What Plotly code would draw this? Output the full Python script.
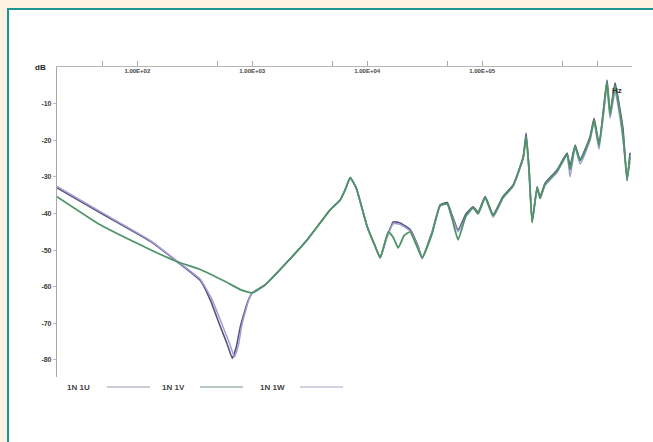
import plotly.graph_objects as go

# Frequency response of the 1N windings (magnitude in dB vs frequency in Hz)

# 1N 1U
freq_u = [20, 47.6, 130, 223, 353, 431, 527, 607, 670, 726, 787, 906, 1000,
          1297, 1750, 3006, 4763, 5824, 6440, 7117, 8020, 10000, 11740, 12970,
          14630, 16830, 19360, 23660, 27760, 30070, 36730, 43130, 49650, 54840,
          61820, 72580, 83560, 92270, 106200, 124700, 152400, 186200, 227600,
          241500, 256300, 272300, 300900, 319400, 353200, 448700, 548000,
          582400, 644400, 711700, 869200, 942000, 1040000, 1175000, 1222000,
          1297000, 1435000, 1585000, 1683000, 1824000, 1936000]
db_u = [-33.0, -39.8, -47.6, -53.2, -58.3, -63.6, -70.9, -75.8, -79.6, -76.5,
        -71.0, -64.4, -61.7,
        -59.5, -55.3, -47.2, -39.0, -36.3, -33.5, -30.2, -33.0, -43.6, -49.0,
        -52.1,
        -47.0, -42.3, -42.6, -44.4, -49.0, -52.1, -45.0, -37.6, -37.0, -40.5,
        -44.5, -40.0, -38.2, -39.6, -35.4, -40.3, -35.3, -32.2, -24.5,
        -18.0, -28.0, -42.3, -32.7, -35.4, -31.7, -28.1, -23.5,
        -27.0, -21.3, -25.3, -19.0, -14.0, -21.0, -7.6, -3.5,
        -12.5, -4.3, -11.7, -17.0, -30.8, -23.4]

# 1N 1V
freq_v = [20, 47.6, 130, 223, 353, 582, 787, 1000,
          1297, 1750, 3006, 4763, 5824, 6440, 7117, 8020, 10000, 11740, 12970,
          15240, 16830, 18620, 20990, 23660, 26670, 30070, 36730, 43130, 49650,
          54840, 61820, 72580, 83560, 92270, 106200, 124700, 152400, 186200,
          227600, 241500, 256300, 272300, 300900, 319400, 353200, 448700,
          548000, 582400, 644400, 711700, 869200, 942000, 1040000, 1175000,
          1222000, 1297000, 1435000, 1585000, 1683000, 1824000, 1936000]
db_v = [-35.4, -43.1, -49.9, -53.2, -55.3, -58.6, -60.8, -61.7,
        -59.5, -55.3, -47.2, -39.0, -36.3, -33.5, -30.2, -33.0, -43.6, -49.0,
        -52.1,
        -45.0, -46.5, -49.4, -46.0, -45.0, -48.5, -52.1, -45.5, -37.8, -37.3,
        -41.5, -47.2, -40.5, -38.4, -40.0, -35.6, -40.6, -35.5, -32.4,
        -24.8, -19.0, -28.5, -42.5, -33.0, -35.8, -31.9, -28.4,
        -23.8, -28.0, -21.6, -25.6, -19.4, -14.5, -21.5, -8.0,
        -4.0, -13.0, -5.0, -12.5, -18.5, -31.0, -24.5]

# 1N 1W
freq_w = [20, 47.6, 130, 223, 353, 445, 550, 636, 700, 758, 812, 925, 1000,
          1297, 1750, 3006, 4763, 5824, 6440, 7117, 8020, 10000, 11740, 12970,
          14630, 16830, 19360, 23660, 27760, 30070, 36730, 43130, 49650, 54840,
          61820, 72580, 83560, 92270, 106200, 124700, 152400, 186200, 227600,
          241500, 256300, 272300, 300900, 319400, 353200, 448700, 548000,
          582400, 644400, 711700, 869200, 942000, 1040000, 1175000, 1222000,
          1297000, 1435000, 1585000, 1683000, 1824000, 1936000]
db_w = [-32.6, -39.5, -47.4, -53.1, -58.0, -63.4, -70.6, -75.6, -79.2, -76.0,
        -70.5, -64.0, -61.7,
        -59.5, -55.3, -47.2, -39.0, -36.3, -33.5, -30.2, -33.0, -43.6, -49.0,
        -52.1,
        -47.2, -42.8, -43.0, -44.8, -49.3, -52.4, -45.2, -38.0, -37.4, -41.0,
        -45.0, -40.8, -38.6, -40.2, -35.8, -41.0, -35.8, -32.6, -25.0,
        -19.0, -28.6, -42.0, -33.2, -36.0, -32.3, -28.8, -24.0,
        -30.0, -22.0, -26.5, -20.0, -15.0, -22.5, -9.0, -5.0,
        -14.0, -6.5, -14.0, -20.0, -29.0, -26.0]

x_tickvals = [50, 100, 500, 1000, 5000, 10000, 50000, 100000, 500000, 1000000]
x_ticktext = ["", "1.00E+02", "", "1.00E+03", "", "1.00E+04", "", "1.00E+05", "", ""]
y_tickvals = [-80, -70, -60, -50, -40, -30, -20, -10, 0]
y_ticktext = ["-80", "-70", "-60", "-50", "-40", "-30", "-20", "-10", ""]

series = [
    ("1N 1U", freq_u, db_u, "#55547e", 1.6),
    ("1N 1W", freq_w, db_w, "#a19dd2", 1.5),
    ("1N 1V", freq_v, db_v, "#4f9467", 1.8),
]

fig = go.Figure()
for name, f, d, color, lw in series:
    fig.add_trace(go.Scatter(x=f, y=d, mode="lines", name=name,
                             line=dict(color=color, width=lw, shape="spline", smoothing=0.4),
                             showlegend=False))

font_family = "Liberation Sans, Arial, sans-serif"
tick_font = dict(family=font_family, size=7, color="#3a3a3a", weight="bold")

L, R, T, B = 57, 21, 67, 65
W, H = 653, 442
pw, ph = W - L - R, H - T - B


def px(xp):
    return (xp - L) / pw


def py(yp):
    return (H - B - yp) / ph


shapes = [
    # white panel with teal border
    dict(type="rect", xref="paper", yref="paper", x0=px(8), x1=px(700),
         y0=py(500), y1=py(9), fillcolor="white",
         line=dict(color="#1f9592", width=2), layer="below"),
]

# legend entries: label followed by a line sample
legend_items = [("1N 1U", 65, 107, 150, "#9a9aae"),
                ("1N 1V", 160, 200, 243, "#6f8f7a"),
                ("1N 1W", 258, 300, 343, "#a6a4c6")]
annotations = []
for label, tx, lx0, lx1, lcol in legend_items:
    annotations.append(dict(text=label, xref="paper", yref="paper", x=px(tx), y=py(387),
                            xanchor="left", yanchor="middle", showarrow=False,
                            font=dict(family=font_family, size=8, color="#444", weight="bold")))
    shapes.append(dict(type="line", xref="paper", yref="paper", x0=px(lx0), x1=px(lx1),
                       y0=py(387), y1=py(387), line=dict(color=lcol, width=1)))

# unit labels on the two axes
annotations.append(dict(text="Hz", xref="paper", yref="paper", x=px(617), y=py(90),
                        xanchor="center", yanchor="middle", showarrow=False,
                        font=dict(family=font_family, size=8, color="#333", weight="bold")))
annotations.append(dict(text="dB", xref="paper", yref="y", x=px(48), y=0,
                        xanchor="right", yanchor="middle", showarrow=False,
                        font=dict(family=font_family, size=8, color="#222", weight="bold")))

fig.update_layout(
    width=W, height=H,
    margin=dict(l=L, r=R, t=T, b=B, pad=0),
    paper_bgcolor="#fcf2e4",
    plot_bgcolor="rgba(0,0,0,0)",
    shapes=shapes,
    annotations=annotations,
    xaxis=dict(type="log", range=[1.301, 6.304], side="top",
               tickvals=x_tickvals, ticktext=x_ticktext,
               ticklabelposition="inside", ticks="outside", ticklen=5,
               tickcolor="#aaa", tickfont=dict(family=font_family, size=6, color="#444", weight="bold"),
               showgrid=False, zeroline=False, showline=True, linecolor="#b5b5b5", linewidth=1),
    yaxis=dict(range=[-84.7, 0.05], tickvals=y_tickvals, ticktext=y_ticktext,
               ticks="outside", ticklen=3, tickcolor="#bbb", tickfont=tick_font,
               showgrid=False, zeroline=False, showline=True, linecolor="#a8a8a8", linewidth=1.2),
)

fig.write_html("out.html")
